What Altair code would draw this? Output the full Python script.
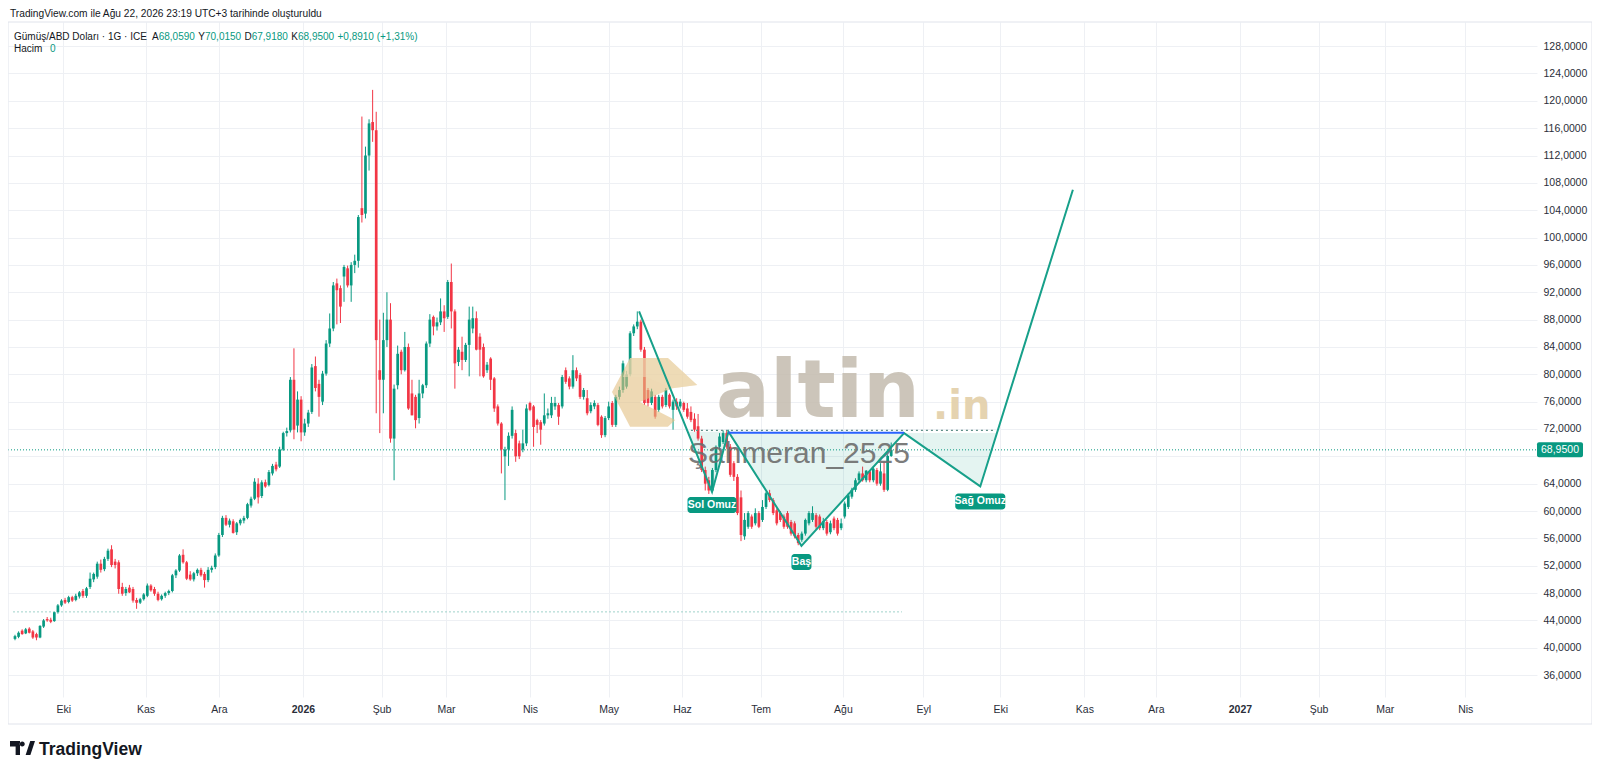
import altair as alt
import pandas as pd

# ---------------- data ----------------
# bar index = weekday count, 0 = 1 Eki 2025 ; first bar = -15 (10 Eyl 2025)
START_INDEX = -15
OPEN = [
    41.3, 41.6, 42.5, 42.1, 42.8, 42.4, 42.0, 41.5, 43.1, 44.2,
    44.1, 43.9, 45.2, 46.2, 47.0, 46.7, 47.4, 47.0, 47.5, 48.3,
    47.6, 48.9, 50.0, 50.4, 52.3, 51.5, 53.0, 54.4, 52.6, 52.5,
    48.9, 48.0, 48.8, 48.6, 47.0, 46.6, 47.1, 47.6, 49.1, 48.6,
    47.9, 47.1, 47.6, 48.0, 48.3, 50.6, 51.3, 53.6, 52.5, 50.7,
    50.0, 50.9, 51.4, 50.8, 49.9, 51.4, 51.8, 53.5, 56.5, 59.0,
    58.0, 58.5, 56.9, 58.2, 58.6, 59.0, 60.8, 61.8, 64.0, 62.2,
    64.2, 63.8, 65.5, 66.8, 66.5, 69.0, 71.4, 71.8, 79.2, 72.5,
    76.3, 71.5, 72.8, 74.5, 81.2, 78.6, 76.0, 80.1, 84.5, 86.7,
    93.3, 92.6, 94.3, 95.5, 93.0, 96.0, 96.6, 104.3, 103.5, 112.0,
    116.9, 115.7, 80.6, 79.2, 85.0, 88.0, 70.6, 78.4, 83.3, 80.6,
    84.0, 77.2, 76.7, 73.6, 77.2, 78.4, 84.5, 88.4, 87.0, 87.6,
    89.2, 88.4, 93.5, 89.2, 81.8, 83.3, 82.1, 84.3, 86.7, 88.2,
    85.5, 84.0, 80.6, 82.3, 79.4, 75.3, 72.8, 68.0, 69.0, 71.0,
    71.4, 69.9, 69.0, 69.9, 75.8, 75.3, 73.3, 73.0, 72.8, 74.0,
    74.0, 75.3, 75.5, 75.3, 80.6, 79.4, 78.2, 80.6, 79.9, 76.7,
    76.5, 74.6, 75.3, 75.5, 73.8, 71.1, 73.6, 75.8, 72.6, 76.7,
    77.7, 78.2, 80.0, 86.0, 87.0, 87.7, 83.6, 77.7, 75.8, 76.7,
    74.8, 76.7, 75.5, 77.0, 74.8, 76.0, 75.3, 75.8, 75.0, 74.5,
    73.5, 72.4, 70.6, 66.0, 64.5, 63.0, 66.0, 69.4, 70.1, 71.4,
    69.4, 67.0, 65.0, 62.0, 56.3, 57.7, 59.2, 58.2, 59.7, 58.7,
    60.6, 62.6, 61.6, 60.1, 59.7, 59.2, 59.7, 58.4, 58.2, 56.5,
    55.8, 56.7, 58.2, 58.7, 59.4, 59.2, 57.5, 58.4, 56.9, 58.9,
    58.7, 57.5, 59.2, 60.6, 62.1, 63.1, 64.5, 65.5, 64.5, 65.8,
    64.5, 66.0, 64.0, 65.5, 63.1, 68.06,
]
HIGH = [
    41.9, 42.4, 42.7, 42.9, 43.0, 42.6, 42.2, 43.3, 44.2, 44.5,
    44.4, 45.3, 46.4, 47.1, 47.3, 47.6, 47.6, 47.9, 48.3, 48.6,
    48.9, 51.0, 51.0, 52.6, 52.9, 53.3, 54.5, 55.0, 53.0, 52.8,
    49.5, 48.9, 49.2, 48.9, 47.3, 47.3, 48.0, 49.4, 49.3, 48.9,
    48.2, 47.8, 48.2, 48.5, 50.8, 51.5, 53.7, 54.4, 52.7, 51.2,
    51.1, 51.6, 51.7, 51.1, 51.8, 52.0, 53.8, 56.8, 59.3, 59.4,
    58.9, 58.8, 58.4, 58.9, 59.3, 61.2, 62.1, 64.8, 64.8, 64.5,
    64.6, 66.0, 66.9, 67.2, 69.4, 71.6, 72.2, 79.6, 83.8, 77.5,
    76.8, 73.5, 74.8, 81.5, 82.6, 79.2, 80.5, 85.0, 88.9, 93.5,
    94.0, 93.0, 96.0, 95.9, 96.4, 97.5, 103.3, 117.7, 113.3, 117.3,
    121.6, 118.4, 88.0, 89.0, 92.0, 90.4, 78.5, 84.2, 83.6, 86.2,
    84.5, 79.2, 77.0, 79.2, 78.6, 84.8, 88.8, 88.6, 88.3, 91.1,
    90.1, 93.8, 96.2, 89.5, 84.0, 85.5, 84.6, 89.9, 89.9, 89.2,
    86.0, 84.5, 81.8, 82.5, 79.6, 75.6, 73.0, 69.4, 71.5, 75.3,
    71.9, 70.3, 71.9, 75.6, 76.0, 75.5, 73.5, 73.3, 77.2, 75.0,
    76.7, 76.7, 75.8, 79.9, 81.0, 79.7, 82.8, 81.0, 80.2, 78.0,
    77.7, 75.9, 76.2, 75.8, 74.0, 73.9, 76.0, 76.1, 77.0, 78.2,
    82.0, 80.5, 86.3, 87.3, 89.2, 88.0, 84.0, 78.0, 77.9, 77.0,
    77.0, 77.0, 78.0, 77.2, 76.3, 76.5, 76.4, 76.0, 75.8, 75.3,
    74.3, 74.2, 71.0, 66.5, 65.0, 66.3, 69.6, 71.4, 71.8, 71.7,
    69.8, 67.3, 65.4, 63.0, 59.7, 60.0, 59.5, 60.4, 60.0, 61.6,
    62.8, 63.1, 61.9, 60.4, 60.0, 59.5, 60.0, 58.7, 58.5, 56.8,
    57.0, 58.9, 60.0, 60.7, 59.7, 59.5, 59.0, 58.7, 58.6, 59.2,
    59.0, 58.9, 61.4, 62.6, 63.4, 64.8, 65.8, 66.5, 66.0, 66.0,
    66.5, 66.3, 67.0, 67.2, 68.3, 70.02,
]
LOW = [
    41.1, 41.4, 41.9, 42.0, 42.1, 41.3, 41.1, 41.4, 42.9, 43.8,
    43.6, 43.8, 45.0, 46.0, 46.4, 46.5, 46.7, 46.8, 47.2, 47.3,
    47.3, 48.6, 49.6, 50.1, 51.0, 51.2, 52.7, 51.8, 51.6, 47.9,
    47.6, 47.6, 48.0, 46.6, 45.7, 46.4, 46.9, 47.4, 48.2, 47.6,
    46.8, 46.9, 47.3, 47.7, 48.1, 50.2, 51.1, 52.3, 49.9, 49.8,
    49.7, 50.5, 50.4, 48.8, 49.6, 51.0, 51.5, 53.3, 56.2, 57.8,
    57.6, 56.7, 56.5, 57.9, 58.2, 58.8, 60.5, 61.6, 61.1, 61.9,
    63.4, 63.6, 65.2, 65.8, 66.3, 68.8, 70.9, 71.5, 70.5, 71.5,
    70.2, 71.0, 72.3, 74.2, 77.5, 73.8, 75.5, 79.8, 84.0, 86.3,
    87.3, 87.5, 90.6, 92.7, 90.6, 94.8, 95.6, 102.2, 102.8, 109.8,
    114.0, 74.3, 71.4, 74.3, 84.0, 70.0, 64.5, 77.8, 80.0, 80.4,
    74.8, 74.0, 72.1, 72.8, 76.5, 78.0, 84.0, 85.7, 86.4, 87.2,
    86.2, 88.1, 86.7, 77.9, 81.2, 80.6, 81.8, 79.7, 86.0, 83.5,
    79.7, 79.5, 80.2, 77.7, 74.5, 72.5, 65.5, 61.6, 66.6, 70.6,
    67.2, 67.6, 68.6, 69.5, 74.6, 69.4, 71.4, 69.7, 72.5, 73.5,
    73.6, 74.8, 72.6, 75.0, 78.6, 77.8, 77.9, 79.0, 76.4, 76.3,
    74.0, 74.3, 74.9, 72.4, 70.7, 70.8, 73.3, 72.3, 72.3, 76.3,
    77.3, 77.9, 79.7, 85.6, 86.6, 83.3, 75.5, 75.3, 75.5, 73.5,
    74.5, 75.0, 75.2, 75.0, 71.9, 74.8, 75.0, 74.5, 73.5, 73.0,
    71.6, 70.3, 65.7, 63.0, 62.5, 62.8, 65.7, 69.0, 69.8, 69.1,
    65.0, 64.4, 59.4, 55.6, 55.8, 57.4, 57.4, 57.9, 57.5, 58.4,
    60.3, 61.3, 59.4, 57.9, 58.4, 57.4, 57.4, 56.4, 56.0, 55.0,
    55.5, 56.4, 57.9, 58.4, 57.4, 57.2, 57.2, 56.4, 56.6, 57.2,
    56.4, 57.2, 58.9, 60.3, 61.8, 62.8, 64.2, 64.3, 64.2, 64.2,
    64.2, 63.7, 63.7, 62.8, 62.9, 67.92,
]
CLOSE = [
    41.7, 42.2, 42.0, 42.7, 42.2, 41.5, 41.5, 43.2, 44.0, 44.0,
    43.8, 45.2, 46.2, 46.9, 46.6, 47.4, 46.9, 47.6, 48.1, 47.6,
    48.7, 50.1, 50.8, 52.3, 51.4, 53.0, 54.2, 52.1, 52.1, 48.6,
    47.9, 48.6, 48.1, 46.9, 46.6, 47.1, 47.8, 49.1, 48.4, 47.9,
    47.0, 47.6, 48.0, 48.3, 50.6, 51.3, 53.5, 52.5, 50.1, 50.0,
    50.9, 51.4, 50.6, 49.9, 51.4, 51.7, 53.5, 56.5, 59.0, 58.0,
    58.6, 56.8, 58.2, 58.7, 59.0, 61.0, 61.8, 64.3, 62.0, 64.2,
    63.6, 65.7, 66.6, 66.1, 69.0, 71.4, 71.7, 79.2, 71.9, 76.3,
    71.5, 72.8, 74.4, 81.0, 78.0, 76.7, 80.1, 84.5, 86.7, 93.0,
    92.3, 89.9, 95.7, 93.0, 96.0, 96.6, 103.0, 103.3, 112.0, 116.7,
    115.7, 85.0, 79.2, 85.0, 88.0, 70.6, 77.9, 83.0, 80.6, 84.0,
    75.0, 74.0, 73.3, 77.2, 78.4, 84.5, 88.0, 87.0, 87.6, 89.2,
    88.2, 93.5, 89.2, 81.6, 83.6, 82.1, 84.3, 88.0, 88.2, 83.6,
    83.6, 79.7, 81.4, 79.2, 75.0, 72.8, 69.0, 69.0, 71.0, 74.8,
    68.0, 68.0, 69.9, 75.0, 74.8, 72.3, 72.6, 71.9, 74.0, 74.3,
    75.8, 75.8, 73.8, 79.6, 78.9, 78.2, 80.6, 79.4, 76.7, 77.7,
    74.3, 75.5, 75.8, 72.6, 71.1, 73.6, 75.3, 72.6, 76.7, 77.7,
    81.6, 80.0, 86.0, 87.0, 87.7, 83.6, 75.8, 75.8, 77.5, 73.8,
    76.7, 75.3, 77.7, 75.3, 76.0, 75.3, 76.0, 74.8, 73.8, 73.3,
    71.9, 70.6, 66.0, 64.0, 63.0, 66.0, 69.4, 70.9, 71.4, 69.4,
    65.3, 65.0, 59.7, 56.5, 58.7, 59.7, 57.7, 59.7, 57.7, 60.6,
    62.6, 61.6, 59.7, 58.2, 58.7, 57.7, 57.7, 56.7, 56.3, 55.3,
    56.7, 58.7, 59.7, 59.7, 57.7, 57.5, 58.5, 56.7, 58.2, 57.5,
    56.7, 58.2, 61.1, 62.3, 63.1, 64.5, 65.5, 64.5, 65.9, 64.5,
    66.2, 64.0, 65.8, 63.1, 68.06, 68.95,
]

# month label positions on the bar-index axis
MONTH_INDEX = [-1.5, 21.5, 42, 65.5, 87.5, 105.5, 129, 151, 171.5, 193.5, 216.5, 239,
               260.5, 284, 304, 327.5, 349.5, 368, 390.5]
MONTH_LABEL = ["Eki", "Kas", "Ara", "2026", "Şub", "Mar", "Nis", "May", "Haz",
               "Tem", "Ağu", "Eyl", "Eki", "Kas", "Ara", "2027", "Şub", "Mar", "Nis"]
YEAR_LABELS = ["2026", "2027"]
PRICE_TICKS = list(range(36, 129, 4))

LAST_PRICE = 68.95
LAST_PRICE_TEXT = "68,9500"
HIDDEN_TICK = 68          # tick label covered by the last-price tag
SUPPORT_LEVEL = 45.25
SUPPORT_END = 233

# inverse head & shoulders drawing
PATTERN_INDEX = [159.5, 179.9, 184.5, 204.9, 233.6, 254.9, 280.8]
PATTERN_PRICE = [89.2, 62.8, 71.6, 54.9, 71.4, 63.6, 107.0]
NECK_BLUE = [184.5, 233.6]
NECK_BLUE_PRICE = 71.45
NECK_DOT = [174.0, 259.0]
NECK_DOT_PRICE = 71.8
LABEL_TEXT = ["Sol Omuz", "Baş", "Sağ Omuz"]
LABEL_INDEX = [179.9, 204.9, 254.9]
LABEL_PRICE = [62.8, 54.9, 63.6]

# ---------------- styling ----------------
UP, DOWN = "#089981", "#F23645"
TXT = "#131722"
FONT = "Liberation Sans"
GRID = "#eef0f4"
W, H = 1529, 675
X_DOMAIN = [-15.556, 409.17]
Y_DOMAIN = [32.80, 131.53]

xs = alt.Scale(domain=X_DOMAIN, nice=False, zero=False)
ys = alt.Scale(domain=Y_DOMAIN, nice=False, zero=False)

label_expr_x = ("[" + ",".join("'%s'" % m for m in MONTH_LABEL) + "][indexof(["
                + ",".join(str(v) for v in MONTH_INDEX) + "], datum.value)]")
year_idx = [MONTH_INDEX[MONTH_LABEL.index(y)] for y in YEAR_LABELS]
year_test = " || ".join("datum.value == %s" % v for v in year_idx)

x_axis = alt.Axis(values=MONTH_INDEX, labelExpr=label_expr_x, title=None, grid=True,
                  gridColor=GRID, domain=False, ticks=False, labelPadding=7,
                  labelFontSize=10.5, labelColor="#2a2e39", labelFont=FONT,
                  labelFlush=False, labelOverlap=False,
                  labelFontWeight={"condition": {"test": year_test, "value": "bold"}, "value": "normal"})
y_axis = alt.Axis(orient="right", values=PRICE_TICKS, title=None, grid=True, gridColor=GRID,
                  labelExpr="datum.value == %d ? '' : replace(format(datum.value, '.4f'), '.', ',')" % HIDDEN_TICK,
                  domain=False, ticks=False, labelPadding=6, labelFontSize=10.5,
                  labelColor="#2a2e39", labelFont=FONT, labelOverlap=False, labelBound=False)


def X(field):
    return alt.X(field, type="quantitative", scale=xs, axis=x_axis)


def Y(field):
    return alt.Y(field, type="quantitative", scale=ys, axis=y_axis)


n = len(CLOSE)
candles = pd.DataFrame({
    "i": [START_INDEX + k for k in range(n)],
    "open": OPEN[:n], "high": HIGH[:n], "low": LOW[:n], "close": CLOSE[:n],
})
candles["dir"] = ["up" if c >= o else "down" for o, c in zip(candles["open"], candles["close"])]
color_enc = alt.Color("dir:N", scale=alt.Scale(domain=["up", "down"], range=[UP, DOWN]), legend=None)

wicks = alt.Chart(candles).mark_rule(strokeWidth=1).encode(
    x=X("i"), y=Y("low"), y2="high:Q", color=color_enc)
bodies = alt.Chart(candles).mark_bar(size=2.7).encode(
    x=X("i"), y=Y("open"), y2="close:Q", color=color_enc)


# pattern fills (triangles between neckline and pattern)
def cross(i0, v0, i1, v1, level):
    return i0 + (level - v0) * (i1 - i0) / (v1 - v0)


lvl = PATTERN_PRICE[2]
c_left = cross(PATTERN_INDEX[0], PATTERN_PRICE[0], PATTERN_INDEX[1], PATTERN_PRICE[1], lvl)
c_right = cross(PATTERN_INDEX[5], PATTERN_PRICE[5], PATTERN_INDEX[6], PATTERN_PRICE[6], PATTERN_PRICE[4])
tri_rows = []
for t, pts in enumerate([
        [(c_left, lvl), (PATTERN_INDEX[1], PATTERN_PRICE[1]), (PATTERN_INDEX[2], PATTERN_PRICE[2])],
        [(PATTERN_INDEX[2], PATTERN_PRICE[2]), (PATTERN_INDEX[3], PATTERN_PRICE[3]), (PATTERN_INDEX[4], PATTERN_PRICE[4])],
        [(PATTERN_INDEX[4], PATTERN_PRICE[4]), (PATTERN_INDEX[5], PATTERN_PRICE[5]), (c_right, PATTERN_PRICE[4])]]):
    top0, top1 = pts[0][1], pts[2][1]
    for pi, pv in pts:
        top = top0 + (top1 - top0) * (pi - pts[0][0]) / (pts[2][0] - pts[0][0])
        tri_rows.append({"t": t, "i": pi, "v": pv, "v2": top})
fills = alt.Chart(pd.DataFrame(tri_rows)).mark_area(color=UP, opacity=0.11).encode(
    x=X("i"), y=Y("v"), y2="v2:Q", detail="t:N")

pattern = alt.Chart(pd.DataFrame({"i": PATTERN_INDEX, "v": PATTERN_PRICE,
                                  "k": list(range(len(PATTERN_INDEX)))})
                    ).mark_line(color="#17a08a", strokeWidth=2).encode(
    x=X("i"), y=Y("v"), order="k:O")

neck_dot = alt.Chart(pd.DataFrame({"a": [NECK_DOT[0]], "b": [NECK_DOT[1]], "v": [NECK_DOT_PRICE]})).mark_rule(
    color="#5f8f88", strokeDash=[2, 3], strokeWidth=1.2).encode(x=X("a"), x2="b:Q", y=Y("v"))
neck_blue = alt.Chart(pd.DataFrame({"a": [NECK_BLUE[0]], "b": [NECK_BLUE[1]], "v": [NECK_BLUE_PRICE]})).mark_rule(
    color="#2962ff", strokeWidth=2).encode(x=X("a"), x2="b:Q", y=Y("v"))

support = alt.Chart(pd.DataFrame({"a": [X_DOMAIN[0]], "b": [SUPPORT_END], "v": [SUPPORT_LEVEL]})).mark_rule(
    color="#9fd3ca", strokeDash=[2, 2], strokeWidth=1).encode(x=X("a"), x2="b:Q", y=Y("v"))

price_line = alt.Chart(pd.DataFrame({"v": [LAST_PRICE]})).mark_rule(
    color=UP, strokeDash=[1, 2], strokeWidth=1).encode(
    y=Y("v"), x=alt.value(0), x2=alt.value(W))
price_box = alt.Chart(pd.DataFrame({"v": [LAST_PRICE]})).mark_rect(
    color=UP, yOffset=-7.5, y2Offset=7.5, cornerRadius=2).encode(
    y=Y("v"), y2="v:Q", x=alt.value(W), x2=alt.value(W + 46))
price_txt = alt.Chart(pd.DataFrame({"t": [LAST_PRICE_TEXT], "v": [LAST_PRICE]})).mark_text(
    color="white", font=FONT, fontSize=10.5, align="center", baseline="middle").encode(
    y=Y("v"), x=alt.value(W + 23), text="t:N")

# labels of the pattern
label_layers = []
for txt, li, lv, bw, dy in zip(LABEL_TEXT, LABEL_INDEX, LABEL_PRICE, [49, 20, 50], [13, 16, 15]):
    d = pd.DataFrame({"i": [li], "v": [lv], "t": [txt]})
    label_layers.append(alt.Chart(d).mark_rect(
        color=UP, cornerRadius=3, xOffset=-bw / 2, x2Offset=bw / 2, yOffset=dy - 8, y2Offset=dy + 8).encode(
        x=X("i"), x2="i:Q", y=Y("v"), y2="v:Q"))
    label_layers.append(alt.Chart(d).mark_text(
        color="white", font=FONT, fontSize=10.5, fontWeight="bold", align="center", baseline="middle",
        dy=dy).encode(x=X("i"), y=Y("v"), text="t:N"))


def text_layer(txt, x, y, size=10.0, color=TXT, weight="normal", font=FONT, align="left",
               baseline="middle", opacity=1.0):
    return alt.Chart(pd.DataFrame({"t": [txt]})).mark_text(
        align=align, baseline=baseline, fontSize=size, font=font, fontWeight=weight,
        color=color, opacity=opacity).encode(x=alt.value(x), y=alt.value(y), text="t:N")


def shape_layer(path, x, y, size, color, opacity=1.0):
    return alt.Chart(pd.DataFrame({"k": [0]})).mark_point(
        shape=path, size=size, filled=True, color=color, opacity=opacity, strokeWidth=0).encode(
        x=alt.value(x), y=alt.value(y))


# watermark (altin.in logo + user name)
LOGO = ("M-1,0 L-0.58,-0.79 L0.3,-0.79 L0.98,-0.16 L0.4,-0.09 L-0.35,0.23 "
        "L0.47,0.65 L0.3,0.81 L-0.58,0.81 Z")
LOGO_TOP = "M-0.58,-0.79 L0.3,-0.79 L0.98,-0.16 L0.4,-0.09 L-0.2,-0.35 L-0.75,-0.35 Z"
watermark = [
    shape_layer(LOGO, 647, 370, 7396, "#e3bf82", 0.6),
    shape_layer(LOGO_TOP, 647, 370, 7396, "#efdcb8", 0.55),
    text_layer("altin", 708, 395, size=80, color="#c4bcae", weight="bold", font="DejaVu Sans",
               baseline="alphabetic", opacity=0.85),
    text_layer(".in", 925, 397, size=40, color="#e3cfa8", weight="bold", font="DejaVu Sans",
               baseline="alphabetic", opacity=0.9),
    text_layer("Şahmeran_2525", 680, 441, size=30, color="#6e6e6e", baseline="alphabetic", opacity=0.9),
]

frame = alt.Chart(pd.DataFrame({"k": [0]})).mark_rect(
    fillOpacity=0, stroke="#e0e3eb", strokeWidth=1).encode(
    x=alt.value(0), x2=alt.value(1584), y=alt.value(0), y2=alt.value(702))

LY = 14.5
texts = [
    text_layer("TradingView.com ile Ağu 22, 2026 23:19 UTC+3 tarihinde oluşturuldu", 2, -8, size=10.2),
    text_layer("Gümüş/ABD Doları · 1G · ICE", 6, LY),
    text_layer("A", 144, LY), text_layer("68,0590", 150.7, LY, color=UP),
    text_layer("Y", 190.3, LY), text_layer("70,0150", 197, LY, color=UP),
    text_layer("D", 236.5, LY), text_layer("67,9180", 243.7, LY, color=UP),
    text_layer("K", 283.3, LY), text_layer("68,9500", 290, LY, color=UP),
    text_layer("+0,8910 (+1,31%)", 329.5, LY, color=UP),
    text_layer("Hacim", 6, 26.5), text_layer("0", 42, 26.5, color=UP),
    text_layer("TradingView", 31, 733, size=17.5, weight="bold", baseline="alphabetic"),
]
TV_ICON = ("M-1,-0.56 L-0.2,-0.56 L-0.2,0.56 L-0.55,0.56 L-0.55,-0.12 L-1,-0.12 Z "
           "M-0.22,-0.33 a0.2,0.2 0 1,0 0.4,0 a0.2,0.2 0 1,0 -0.4,0 Z "
           "M0.25,0.56 L0.62,-0.56 L1,-0.56 L0.63,0.56 Z")
texts.append(shape_layer(TV_ICON, 14.5, 726, 625, TXT))

chart = alt.layer(
    wicks, fills, support, price_line, bodies, *watermark,
    neck_dot, pattern, neck_blue, *label_layers, price_box, price_txt, frame, *texts,
).properties(
    width=W, height=H,
    autosize=alt.AutoSizeParams(type="none"),
    padding={"left": 0, "top": 14, "right": 55, "bottom": 64},
).configure(font=FONT).configure_view(stroke=None)

chart.save("out.html", embed_options={"renderer": "svg", "actions": False})
